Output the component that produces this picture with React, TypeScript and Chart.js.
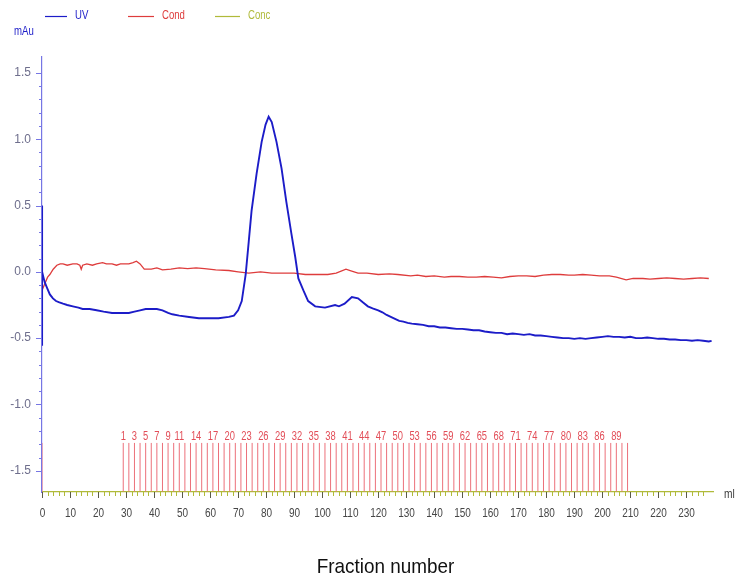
import React, { useEffect, useRef } from "react";
import { Chart, registerables } from "chart.js";

Chart.register(...registerables);

// UV absorbance trace (mAu) against elution volume (ml)
const uvMl = [
  0, 0.02, 0.05, 0.5, 1, 1.8, 2.8, 3.9, 5, 6.2, 7.5, 9, 11, 13, 14.5, 17, 19.5, 22, 25, 28, 31, 33, 35, 37, 39, 41,
  43, 45, 46.5, 49, 52.5, 56, 59.6, 63, 66.7, 68.5, 70, 71.3, 72.7, 73.8, 74.8, 76.6, 78.4, 79.8, 80.9, 82, 83.7,
  85.5, 87.2, 89, 90.4, 91.5, 93.3, 95, 97.5, 101, 104.6, 106, 108, 110.6, 112.8, 114.5, 116.3, 118, 120, 121.5, 123,
  124.5, 126, 127.5, 129, 130.5, 132, 134, 136, 138, 140, 142, 144, 146, 148, 150, 152, 154, 156, 158, 160, 162, 164,
  166, 168, 170, 172, 174, 176, 178, 180, 182, 184, 186, 188, 190, 192, 194, 196, 198, 200, 202, 204, 206, 208, 210,
  212, 214, 216, 218, 220, 222, 224, 226, 228, 230, 232, 234, 236, 238, 239,
];
const uvMau = [
  -0.55, 0.5, 0.0, -0.04, -0.08, -0.12, -0.17, -0.2, -0.22, -0.23, -0.24, -0.25, -0.26, -0.27, -0.28, -0.28, -0.29,
  -0.3, -0.31, -0.31, -0.31, -0.3, -0.29, -0.28, -0.28, -0.28, -0.29, -0.31, -0.32, -0.33, -0.34, -0.35, -0.35,
  -0.35, -0.34, -0.33, -0.29, -0.22, -0.02, 0.23, 0.46, 0.74, 0.98, 1.11, 1.17, 1.13, 0.98, 0.78, 0.53, 0.29, 0.11,
  -0.05, -0.14, -0.22, -0.26, -0.27, -0.25, -0.26, -0.24, -0.19, -0.2, -0.23, -0.26, -0.275, -0.29, -0.305, -0.325,
  -0.34, -0.355, -0.37, -0.375, -0.385, -0.39, -0.395, -0.4, -0.41, -0.41, -0.42, -0.42, -0.425, -0.43, -0.43,
  -0.435, -0.44, -0.44, -0.45, -0.455, -0.46, -0.46, -0.47, -0.465, -0.47, -0.475, -0.47, -0.48, -0.48, -0.485,
  -0.49, -0.495, -0.5, -0.5, -0.505, -0.5, -0.505, -0.5, -0.495, -0.49, -0.485, -0.49, -0.49, -0.495, -0.49, -0.5,
  -0.5, -0.495, -0.5, -0.505, -0.505, -0.51, -0.51, -0.515, -0.515, -0.52, -0.515, -0.52, -0.525, -0.52,
];

// Conductivity trace, plotted on the same mAu scale
const condMl = [
  0, 1, 2, 2.8, 4, 5.3, 6.5, 7.5, 9, 11, 12.5, 13.5, 14, 14.5, 16, 18, 19.5, 21.6, 23, 25, 26.6, 28, 31, 32.5, 33.7,
  35, 36.5, 39, 41, 43, 46, 49, 52, 55, 58, 62, 66.7, 70, 73.8, 78, 82, 85.5, 90, 94, 97.5, 102, 105, 108.5, 110,
  112.8, 116, 120, 124, 127, 131.6, 134, 137, 140, 143.6, 146, 149, 152, 155, 158, 161, 164, 167, 170, 173, 176, 179,
  182, 185, 188, 190, 193, 196, 199, 202.5, 205, 208.5, 211, 214.5, 217, 220, 223, 226, 229, 232, 235, 238,
];
const condMau = [
  -0.14, -0.09, -0.04, -0.02, 0.02, 0.05, 0.06, 0.06, 0.05, 0.06, 0.06, 0.05, 0.02, 0.05, 0.06, 0.05, 0.06, 0.07,
  0.06, 0.06, 0.05, 0.06, 0.06, 0.07, 0.08, 0.06, 0.02, 0.02, 0.03, 0.015, 0.02, 0.03, 0.025, 0.03, 0.025, 0.015,
  0.01, 0.0, -0.01, 0.0, -0.01, -0.01, -0.01, -0.02, -0.02, -0.02, -0.01, 0.02, 0.01, -0.01, -0.01, -0.02, -0.015,
  -0.02, -0.03, -0.025, -0.035, -0.03, -0.04, -0.035, -0.035, -0.04, -0.04, -0.035, -0.04, -0.045, -0.035, -0.03,
  -0.03, -0.035, -0.025, -0.02, -0.02, -0.025, -0.025, -0.02, -0.025, -0.03, -0.03, -0.04, -0.06, -0.05, -0.05,
  -0.055, -0.05, -0.045, -0.05, -0.055, -0.05, -0.045, -0.05,
];

// Concentration (% B), flat at zero for the whole run
const concMl = [0, 239.5];
const concPct = [0, 0];

// Fraction boundaries (ml) and the fraction numbers that carry a label
const fractionMl = [
  29, 31, 33, 35, 37, 39, 41, 43, 45, 47, 49, 51, 53, 55, 57, 59, 61, 63, 65, 67, 69, 71, 73, 75, 77, 79, 81, 83, 85,
  87, 89, 91, 93, 95, 97, 99, 101, 103, 105, 107, 109, 111, 113, 115, 117, 119, 121, 123, 125, 127, 129, 131, 133,
  135, 137, 139, 141, 143, 145, 147, 149, 151, 153, 155, 157, 159, 161, 163, 165, 167, 169, 171, 173, 175, 177, 179,
  181, 183, 185, 187, 189, 191, 193, 195, 197, 199, 201, 203, 205, 207, 209,
];
const injectionMl = [0];
const fractionLabels = [
  1, 3, 5, 7, 9, 11, 14, 17, 20, 23, 26, 29, 32, 35, 38, 41, 44, 47, 50, 53, 56, 59, 62, 65, 68, 71, 74, 77, 80, 83,
  86, 89,
];

const Y_MIN = -1.66;
const Y_MAX = 1.62;
const X_MAX = 239.5;
const MARK_TOP = -1.29;
const MARK_LABEL = -1.245;

const UV_COLOR = "rgb(28,28,200)";
const COND_COLOR = "rgb(222,60,60)";
const CONC_COLOR = "rgb(176,186,58)";
const FRAC_COLOR = "rgb(236,112,122)";
const Y_AXIS_COLOR = "rgb(118,118,228)";
const SANS = '"Liberation Sans", Arial, sans-serif';

function pairs(xs: number[], ys: number[]) {
  return xs.map((x, i) => ({ x, y: ys[i] }));
}

function markerSegments(xs: number[]) {
  const out: { x: number; y: number | null }[] = [];
  xs.forEach((x) => {
    out.push({ x, y: Y_MIN }, { x, y: MARK_TOP }, { x, y: null });
  });
  return out;
}

// Text drawn slightly condensed horizontally
function narrowText(ctx: CanvasRenderingContext2D, text: string, x: number, y: number, squeeze: number) {
  ctx.save();
  ctx.translate(x, y);
  ctx.scale(squeeze, 1);
  ctx.fillText(text, 0, 0);
  ctx.restore();
}

const decorPlugin = {
  id: "chromDecor",
  afterDraw(chart: any) {
    const { ctx, chartArea, scales } = chart;
    const xs = scales.x;
    const ys = scales.y;
    ctx.save();
    ctx.lineWidth = 1;

    // y-axis tick marks: major every 0.5, minor every 0.1
    ys.ticks.forEach((t: any) => {
      const r = Math.round(t.value * 10);
      if (Math.abs(t.value * 10 - r) > 1e-6) return;
      const py = Math.round(ys.getPixelForValue(t.value)) + 0.5;
      const len = r % 5 === 0 ? 6 : 3;
      ctx.strokeStyle = Y_AXIS_COLOR;
      ctx.beginPath();
      ctx.moveTo(chartArea.left - len, py);
      ctx.lineTo(chartArea.left, py);
      ctx.stroke();
    });

    // x-axis tick marks (major every 10 ml, minor every 2 ml) and their labels
    ctx.font = `12.5px ${SANS}`;
    ctx.textAlign = "center";
    ctx.textBaseline = "middle";
    ctx.fillStyle = "rgb(70,70,70)";
    xs.ticks.forEach((t: any) => {
      const v = t.value;
      if (Math.abs(v - Math.round(v)) > 1e-6 || Math.round(v) % 2 !== 0) return;
      const px = Math.round(xs.getPixelForValue(v)) + 0.5;
      const major = Math.round(v) % 10 === 0;
      ctx.strokeStyle = major ? "rgb(90,90,70)" : CONC_COLOR;
      ctx.beginPath();
      ctx.moveTo(px, chartArea.bottom);
      ctx.lineTo(px, chartArea.bottom + (major ? 6 : 4));
      ctx.stroke();
      if (major) narrowText(ctx, String(Math.round(v)), px, chartArea.bottom + 22, 0.8);
    });

    // fraction numbers above the fraction marks
    ctx.fillStyle = "rgb(226,78,88)";
    ctx.font = `12px ${SANS}`;
    fractionLabels.forEach((n) => {
      const px = xs.getPixelForValue(fractionMl[n - 1]);
      const py = ys.getPixelForValue(MARK_LABEL);
      narrowText(ctx, String(n), px, py, 0.78);
    });

    // axis title
    ctx.fillStyle = "#111";
    ctx.font = `21px ${SANS}`;
    narrowText(ctx, "Fraction number", (chartArea.left + chartArea.right) / 2 + 8, chart.height - 16, 0.9);

    // units
    ctx.textAlign = "left";
    ctx.fillStyle = "rgb(60,60,60)";
    ctx.font = `12px ${SANS}`;
    narrowText(ctx, "ml", chartArea.right + 11, chartArea.bottom + 3, 0.85);
    ctx.fillStyle = UV_COLOR;
    ctx.font = `12px ${SANS}`;
    narrowText(ctx, "mAu", chartArea.left - 28, 32, 0.8);

    // legend
    const items = chart.data.datasets.slice(0, 3);
    const lineStart = [chartArea.left + 3, chartArea.left + 86, chartArea.left + 173];
    const lineLen = [22, 26, 25];
    ctx.font = `12px ${SANS}`;
    items.forEach((ds: any, i: number) => {
      const x0 = lineStart[i];
      ctx.strokeStyle = ds.borderColor;
      ctx.lineWidth = 1.2;
      ctx.beginPath();
      ctx.moveTo(x0, 16.5);
      ctx.lineTo(x0 + lineLen[i], 16.5);
      ctx.stroke();
      ctx.fillStyle = ds.borderColor;
      narrowText(ctx, ds.label, x0 + lineLen[i] + 8, 16, 0.8);
    });
    ctx.restore();
  },
};

export default function App() {
  const canvasRef = useRef<HTMLCanvasElement | null>(null);

  useEffect(() => {
    const canvas = canvasRef.current;
    if (!canvas) return;
    const chart = new Chart(canvas, {
      type: "line",
      data: {
        datasets: [
          {
            label: "UV",
            data: pairs(uvMl, uvMau),
            borderColor: UV_COLOR,
            borderWidth: 1.9,
            pointRadius: 0,
            tension: 0,
            yAxisID: "y",
          },
          {
            label: "Cond",
            data: pairs(condMl, condMau),
            borderColor: COND_COLOR,
            borderWidth: 1.3,
            pointRadius: 0,
            tension: 0,
            yAxisID: "y",
          },
          {
            label: "Conc",
            data: pairs(concMl, concPct),
            borderColor: CONC_COLOR,
            borderWidth: 1.2,
            pointRadius: 0,
            tension: 0,
            yAxisID: "conc",
          },
          {
            label: "Fractions",
            data: [...markerSegments(injectionMl), ...markerSegments(fractionMl)],
            borderColor: FRAC_COLOR,
            borderWidth: 1,
            pointRadius: 0,
            spanGaps: false,
            yAxisID: "y",
          },
        ],
      },
      options: {
        responsive: false,
        animation: false,
        layout: { padding: { top: 57, right: 25, left: 0, bottom: 0 } },
        plugins: { legend: { display: false }, tooltip: { enabled: false } },
        scales: {
          x: {
            type: "linear",
            min: 0,
            max: X_MAX,
            grid: { display: false, drawTicks: false },
            border: { display: true, color: CONC_COLOR, width: 1.2 },
            ticks: {
              stepSize: 2,
              autoSkip: false,
              maxRotation: 0,
              display: false,
            },
            afterFit: (scale: any) => {
              scale.height = 91;
            },
          },
          y: {
            type: "linear",
            min: Y_MIN,
            max: Y_MAX,
            grid: { display: false, drawTicks: false },
            border: { display: true, color: Y_AXIS_COLOR, width: 1.2 },
            ticks: {
              stepSize: 0.1,
              autoSkip: false,
              padding: 11,
              color: "rgb(110,110,140)",
              font: { family: SANS, size: 12 },
              callback: (v: any) => {
                const n = Number(v);
                const r = Math.round(n * 10);
                if (Math.abs(n * 10 - r) > 1e-6 || r % 5 !== 0) return "";
                return (r / 10).toFixed(1);
              },
            },
            afterFit: (scale: any) => {
              scale.width = 42;
            },
          },
          conc: {
            type: "linear",
            display: false,
            min: 0,
            max: 100,
          },
        },
      },
      plugins: [decorPlugin],
    });
    return () => chart.destroy();
  }, []);

  return (
    <div style={{ position: "absolute", left: 0, top: 0, width: 738, height: 583, background: "#fff" }}>
      <canvas ref={canvasRef} width={738} height={583} />
    </div>
  );
}
